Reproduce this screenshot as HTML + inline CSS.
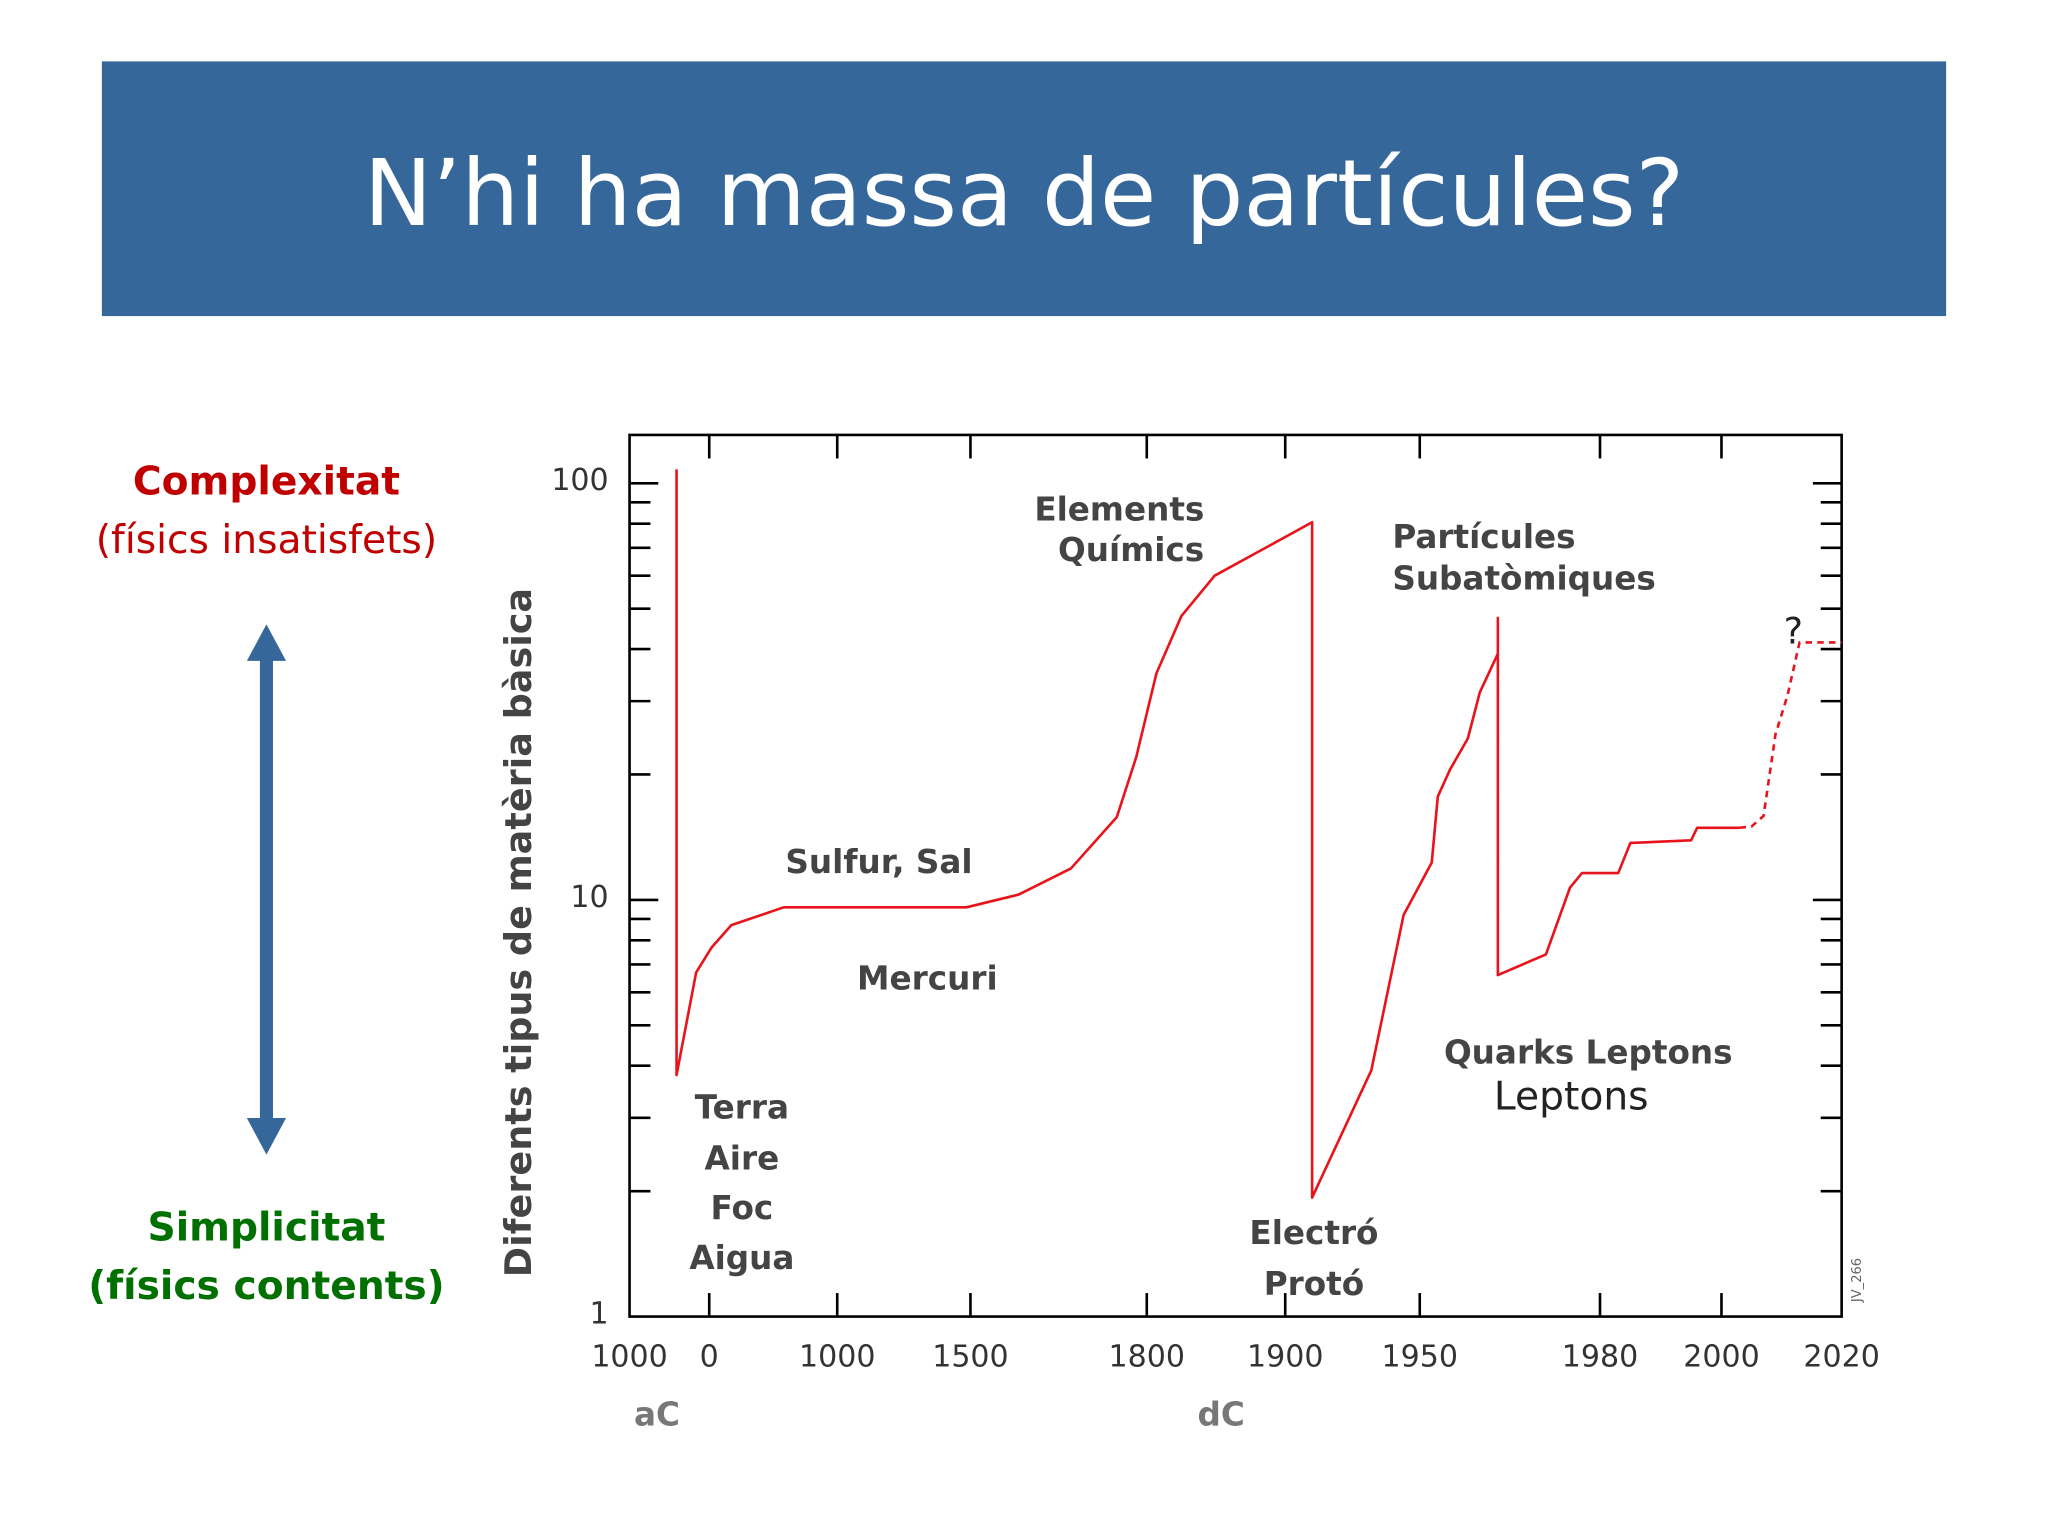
<!DOCTYPE html>
<html><head><meta charset="utf-8"><style>
html,body{margin:0;padding:0;background:#fff;}
svg{display:block;}
text{font-family:"DejaVu Sans","Liberation Sans",sans-serif;}
</style></head><body>
<svg id="s" width="2048" height="1536" viewBox="0 0 1568 1176" xmlns="http://www.w3.org/2000/svg">
<rect x="78" y="47" width="1412" height="195" fill="#35679a"/>
<text x="784" y="148" fill="#fff" font-size="70" text-anchor="middle" dominant-baseline="central">N’hi ha massa de partícules?</text>
<text x="204" y="369" fill="#c00000" font-size="30" font-weight="bold" text-anchor="middle" dominant-baseline="central">Complexitat</text>
<text x="204" y="414" fill="#c00000" font-size="30" text-anchor="middle" dominant-baseline="central">(físics insatisfets)</text>
<g fill="#35679a">
<rect x="199" y="500" width="10" height="362"/>
<polygon points="204,478 189,506 219,506"/>
<polygon points="204,884 189,856 219,856"/>
</g>
<text x="204" y="940" fill="#007000" font-size="30" font-weight="bold" text-anchor="middle" dominant-baseline="central">Simplicitat</text>
<text x="204" y="985" fill="#007000" font-size="30" font-weight="bold" text-anchor="middle" dominant-baseline="central">(físics contents)</text>
<g id="chart"></g>
</svg>
<script>
const xTickYears=[-1000,0,1000,1500,1800,1900,1950,1980,2000,2020];
const xTickLabels=["1000","0","1000","1500","1800","1900","1950","1980","2000","2020"];
const yTickValues=[1,10,100];
const yTickLabels=["1","10","100"];
const solidYears=[-410,-410,-164,20,173,582,1485,1582,1671,1749,1782,1807,1825,1849,1910,1910,1932,1944,1952,1953,1955,1958,1960,1963,1963,1963,1971,1975,1977,1983,1985,1995,1996,2003];
const solidValues=[108,3.8,6.7,7.7,8.7,9.6,9.6,10.3,11.9,15.8,22,35,48,60,80.6,1.93,3.9,9.2,12.3,17.7,20.5,24.4,31.5,39,47.5,6.6,7.4,10.7,11.6,11.6,13.7,13.9,14.9,14.9];
const dashedYears=[2003,2005,2007,2009,2011,2013,2020];
const dashedValues=[14.9,15,15.9,25,31,41.5,41.5];

const xPix=[482,543,641,743,878,984,1087,1225,1318,1410];
const L=482,R=1410,T=333,B=1008;
function X(yr){for(let i=0;i<xTickYears.length-1;i++){const a=xTickYears[i],b=xTickYears[i+1];if(yr<=b||i===xTickYears.length-2){return xPix[i]+(yr-a)/(b-a)*(xPix[i+1]-xPix[i]);}}}
function Y(v){return B-319*Math.log10(v);}
const NS="http://www.w3.org/2000/svg";
const g=document.getElementById('chart');
function mk(t,a,txt){const e=document.createElementNS(NS,t);for(const k in a)e.setAttribute(k,a[k]);if(txt!==undefined)e.textContent=txt;g.appendChild(e);return e;}
let fr=mk('rect',{x:L,y:T,width:R-L,height:B-T,fill:'none',stroke:'#000','stroke-width':2});


xTickYears.forEach((yr,i)=>{
 const x=X(yr);
 if(i>0&&i<xTickYears.length-1){
  let t1=mk('line',{x1:x,x2:x,y1:T,y2:T+18,stroke:'#000','stroke-width':2});
  
  
  let t2=mk('line',{x1:x,x2:x,y1:B,y2:B-18,stroke:'#000','stroke-width':2});
  
  
 }
 let lb=mk('text',{x:x,y:1039,'font-size':23,fill:'#333','text-anchor':'middle','dominant-baseline':'central'},xTickLabels[i]);
 
 
});
for(let d=0;d<2;d++){for(let m=1;m<=9;m++){const v=Math.pow(10,d)*m;if(m===1&&d===0)continue;const y=Y(v);const len=(m===1)?22:16;
 let a=mk('line',{x1:L,x2:L+len,y1:y,y2:y,stroke:'#000','stroke-width':2});
 
 
 let b=mk('line',{x1:R,x2:R-len,y1:y,y2:y,stroke:'#000','stroke-width':2});
 
 }}
{const y=Y(100);let a=mk('line',{x1:L,x2:L+22,y1:y,y2:y,stroke:'#000','stroke-width':2});let b=mk('line',{x1:R,x2:R-22,y1:y,y2:y,stroke:'#000','stroke-width':2});}
yTickValues.forEach((v,i)=>{
 let t=mk('text',{x:466,y:Y(v)-2,'font-size':23,fill:'#333','text-anchor':'end','dominant-baseline':'central'},yTickLabels[i]);
 
 
});
let p1=mk('polyline',{points:solidYears.map((yr,i)=>X(yr)+','+Y(solidValues[i])).join(' '),fill:'none',stroke:'#e8141c','stroke-width':2,'stroke-linejoin':'round'});


let p2=mk('polyline',{points:dashedYears.map((yr,i)=>X(yr)+','+Y(dashedValues[i])).join(' '),fill:'none',stroke:'#e8141c','stroke-width':2,'stroke-dasharray':'5,4'});


const labs=[["Elements",857,390,"middle","elements-label"],["Químics",866,421,"middle","quimics-label"],["Sulfur, Sal",673,660,"middle","sulfur-sal-label"],["Mercuri",710,749,"middle","mercuri-label"],["Terra",568,848,"middle","terra-label"],["Aire",568,887,"middle","aire-label"],["Foc",568,925,"middle","foc-label"],["Aigua",568,963,"middle","aigua-label"],["Electró",1006,944,"middle","electro-label"],["Protó",1006,983,"middle","proto-label"],["Partícules",1066,411,"start","particules-label"],["Subatòmiques",1066,443,"start","subatomiques-label"],["Quarks Leptons",1216,806,"middle","quarks-leptons-label"]];
labs.forEach(l=>{let t=mk('text',{x:l[1],y:l[2],'font-size':25,'font-weight':'bold',fill:'#444','text-anchor':l[3],'dominant-baseline':'central'},l[0]);
 
 });
let lp=mk('text',{x:1203,y:840,'font-size':30,fill:'#222','text-anchor':'middle','dominant-baseline':'central',"font-family":"Liberation Sans, sans-serif"},"Leptons");


let q=mk('text',{x:1373,y:483,'font-size':28,fill:'#222','text-anchor':'middle','dominant-baseline':'central'},"?");


let ac=mk('text',{x:503,y:1083,'font-size':25,'font-weight':'bold',fill:'#777','text-anchor':'middle','dominant-baseline':'central'},"aC");


let dc=mk('text',{x:935,y:1083,'font-size':25,'font-weight':'bold',fill:'#777','text-anchor':'middle','dominant-baseline':'central'},"dC");


let yt=mk('text',{x:0,y:0,'font-size':28,'font-weight':'bold',fill:'#444','text-anchor':'middle','dominant-baseline':'central',transform:'translate(397,714) rotate(-90)'},"Diferents tipus de matèria bàsica");


let jv=mk('text',{x:0,y:0,'font-size':10,fill:'#666','text-anchor':'middle','dominant-baseline':'central',transform:'translate(1422,980) rotate(-90)'},"JV_266");


</script>
</body></html>
